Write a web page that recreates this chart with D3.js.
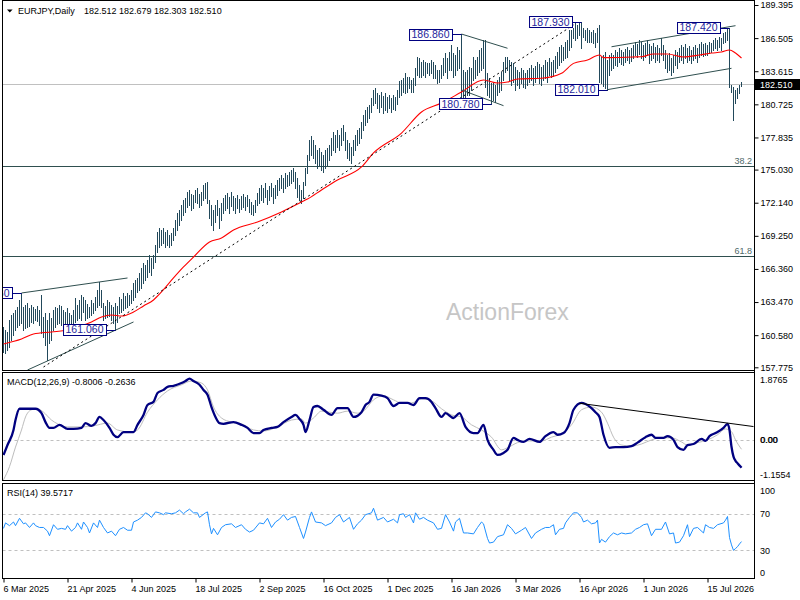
<!DOCTYPE html>
<html><head><meta charset="utf-8">
<script src="https://cdn.jsdelivr.net/npm/d3@7/dist/d3.min.js"></script>
<style>body{margin:0;background:#fff}svg{display:block}text{font-family:"Liberation Sans",Arial,sans-serif}</style>
</head><body>
<svg id="c" width="800" height="600"></svg>
<script>
// ---------- DATA ----------
const symbol = "EURJPY,Daily";
const lastOHLC = [182.512, 182.679, 182.303, 182.510];
const currentPrice = 182.510;

const highs = [
161.29,161.03,160.86,161.90,162.34,162.52,162.78,163.04,163.65,164.26,
163.04,163.21,163.39,162.95,163.21,163.04,162.86,163.13,162.78,164.09,
162.16,162.52,161.90,162.52,162.08,162.78,163.04,162.95,163.21,163.13,
162.78,162.60,162.95,162.52,162.34,162.78,163.82,163.21,163.65,164.09,
163.95,163.65,163.30,163.04,163.65,163.39,163.91,164.52,165.22,164.52,
163.39,163.13,163.65,163.47,163.21,163.04,163.39,163.13,163.91,163.74,
164.26,164.00,164.26,164.09,164.52,165.13,165.40,165.57,166.01,166.44,
166.88,166.70,167.14,167.58,167.31,167.58,168.45,169.59,169.93,169.76,
169.93,169.59,169.76,169.32,169.50,169.93,170.63,171.24,171.50,171.94,
172.38,172.55,173.08,173.25,172.90,172.81,173.25,173.42,172.90,173.08,
173.69,173.86,173.95,172.38,171.94,171.50,171.94,172.38,171.68,172.11,
172.55,172.81,172.99,172.64,173.08,172.73,172.55,172.81,172.46,172.73,
172.90,172.64,172.81,172.46,172.20,171.94,172.38,172.99,173.42,173.69,
173.42,173.86,173.25,173.60,173.86,173.42,173.69,174.12,174.30,174.56,
174.30,174.73,174.56,174.82,174.99,175.17,174.82,174.30,173.69,173.25,
173.95,175.17,176.30,177.61,177.96,177.61,177.18,176.74,176.91,176.57,
176.30,176.74,176.91,177.18,177.79,178.31,178.05,178.48,178.05,178.66,
178.92,178.31,177.61,177.35,177.00,177.61,178.05,178.48,178.66,179.18,
179.79,180.23,180.49,180.67,181.28,181.98,182.15,181.71,181.54,181.80,
181.45,181.71,181.36,181.54,181.28,181.54,181.36,181.98,182.76,182.85,
183.02,183.46,183.11,183.11,182.85,183.02,183.90,184.86,184.77,184.42,
184.60,184.42,184.33,184.33,184.60,184.42,184.16,183.72,183.72,184.16,
184.77,185.20,184.77,185.29,185.90,185.20,185.03,185.73,185.47,186.86,
183.72,183.55,183.72,183.98,183.90,184.86,184.60,184.86,185.47,185.64,
186.34,186.34,183.46,183.02,182.59,182.59,182.41,182.85,183.11,183.55,
184.42,184.86,184.86,184.60,184.42,184.33,183.98,183.72,183.55,183.90,
183.72,183.46,183.72,183.90,184.16,183.90,184.07,184.42,184.25,183.98,
184.16,184.60,184.42,184.77,184.42,184.60,184.94,185.29,185.73,185.90,
185.73,186.16,186.34,187.21,187.21,187.39,187.82,187.65,187.82,187.93,
187.39,187.21,187.39,187.21,187.04,187.21,186.95,187.39,187.65,184.86,
185.03,185.29,184.60,185.03,185.20,185.03,185.47,185.29,185.64,185.47,
185.29,185.55,185.73,185.47,185.64,185.90,186.16,185.99,186.34,186.16,
185.90,186.08,186.34,185.99,185.82,186.08,185.73,185.90,185.64,186.51,
185.90,185.47,185.03,185.20,184.77,185.03,185.47,185.29,185.64,185.90,
185.73,185.99,185.64,185.82,185.47,185.73,185.90,185.64,185.99,186.16,
185.99,186.08,185.90,186.16,186.08,186.34,186.51,186.34,186.60,186.51,
186.95,187.04,187.30,187.42,182.41,182.24,181.98,182.15,182.41,182.679
];
const lows = [
159.12,159.03,159.29,159.55,160.16,160.59,161.03,161.29,161.47,161.64,
161.03,161.21,161.29,161.38,161.73,161.64,161.90,161.82,161.47,160.77,
160.42,159.73,158.41,159.90,160.16,161.03,161.29,161.55,161.64,161.47,
161.03,161.21,160.86,161.47,161.29,161.47,161.73,161.90,162.08,161.90,
162.60,161.90,162.08,162.16,162.34,162.52,162.78,163.04,163.21,163.04,
161.90,162.08,162.16,162.25,161.90,161.64,161.06,161.73,162.52,162.60,
162.78,162.95,163.04,163.21,163.39,163.65,163.91,164.35,164.52,164.70,
165.13,165.40,165.66,166.09,165.83,166.44,166.97,167.84,168.27,168.45,
168.62,168.27,168.45,168.27,168.45,168.89,169.32,169.76,170.19,170.63,
171.07,171.33,171.76,171.94,171.50,171.68,172.20,172.11,171.76,171.94,
172.38,172.55,172.11,170.80,170.19,169.76,170.46,171.07,169.93,170.63,
171.24,171.50,171.68,171.24,171.85,171.50,171.24,171.68,171.33,171.59,
171.76,171.50,171.85,171.33,171.15,171.07,171.33,171.94,172.11,172.38,
172.20,172.64,172.03,172.38,172.73,172.11,172.55,172.81,173.25,173.42,
173.08,173.42,173.60,173.69,173.86,174.04,173.42,172.64,172.38,172.11,
172.55,173.69,174.73,175.87,176.30,176.04,175.60,175.17,175.43,174.99,
174.82,175.17,175.43,175.87,176.30,176.74,176.57,177.00,176.74,177.18,
177.61,176.74,176.04,175.87,175.60,176.30,176.74,177.18,177.35,177.79,
178.48,178.92,179.18,179.53,180.06,180.67,180.84,180.41,180.06,180.49,
179.97,180.23,180.06,180.41,180.06,180.32,180.23,180.75,181.36,181.54,
181.80,181.71,181.80,182.15,181.80,181.80,182.41,183.29,183.11,183.11,
183.29,183.11,183.46,183.29,183.46,183.02,183.02,182.59,182.67,183.02,
183.29,183.55,183.02,183.72,183.72,183.11,183.29,183.72,183.90,181.28,
181.10,181.28,181.54,181.54,181.98,182.85,183.02,183.29,183.55,183.72,
183.90,182.24,181.54,181.37,180.78,181.10,180.93,181.54,181.80,181.98,
182.85,183.55,183.72,182.85,182.41,182.67,181.98,182.41,182.15,182.59,
182.24,182.15,182.41,182.67,182.85,182.41,182.67,183.02,182.59,182.41,
182.85,183.02,182.67,183.29,183.11,183.20,183.55,183.90,184.16,184.42,
184.60,184.77,184.86,185.47,185.73,186.51,186.34,186.51,186.77,185.64,
186.60,186.34,186.16,186.16,186.16,186.08,185.73,186.16,182.67,182.59,
182.32,182.15,182.01,183.29,183.72,183.90,184.16,184.07,184.42,184.25,
184.16,184.42,184.60,184.33,184.51,184.77,185.03,184.86,185.12,184.77,
184.60,184.86,185.03,184.33,184.60,184.77,184.42,184.60,184.42,185.03,
184.60,183.90,183.55,183.72,183.29,183.55,184.16,183.90,184.42,184.60,
184.33,184.77,184.42,184.60,184.33,184.60,184.77,184.42,184.86,185.03,
184.94,185.03,185.03,185.20,185.29,185.47,185.64,185.47,185.73,185.47,
186.08,186.16,186.34,182.24,181.80,179.36,180.84,181.28,181.71,182.303
];

const maIdx = [0,9,15,24,32,37,44,49,54,59,65,70,75,79,85,90,95,103,109,115,127,139,149,152,159,167,179,185,199,209,219,229,240,247,252,257,269,279,285,292,298,300,315,319,325,332,340,348,354,359,363,366,369];
const maVal = [159.81,160.24,160.68,160.86,161.03,161.29,161.73,162.16,162.34,162.25,162.60,163.13,163.65,164.35,165.57,166.53,167.40,168.71,169.06,169.76,170.46,171.33,172.20,172.46,173.25,174.12,175.26,176.48,178.22,180.06,180.84,181.80,182.85,182.59,182.67,182.94,183.00,183.43,184.30,184.60,185.03,184.80,184.86,184.88,185.12,185.12,184.86,185.03,185.20,185.29,185.47,185.20,184.77];

const macdIdx = [0,2,5,6,8,9,14,16,19,21,23,25,28,32,35,39,41,44,46,48,50,53,55,57,60,62,65,67,70,72,75,77,80,82,85,89,91,93,95,98,100,102,104,106,108,110,115,119,122,125,128,130,134,137,140,144,146,148,150,151,153,155,157,160,164,167,172,175,179,181,183,185,189,192,195,198,202,205,208,211,214,216,219,221,225,228,231,235,237,240,242,245,247,250,252,255,257,260,263,268,271,275,277,280,283,285,289,291,294,296,298,300,303,306,310,314,317,321,324,326,330,332,335,337,340,342,345,349,351,353,356,360,362,363,364,365,366,367,369];
const macdVal = [-0.43,-0.14,0.30,0.59,0.92,0.92,0.92,0.92,0.79,0.53,0.36,0.36,0.45,0.33,0.33,0.36,0.50,0.42,0.50,0.68,0.59,0.36,0.16,0.09,0.24,0.24,0.24,0.45,0.74,1.03,1.12,1.38,1.47,1.56,1.59,1.67,1.73,1.80,1.73,1.62,1.47,1.33,0.97,0.68,0.50,0.48,0.53,0.45,0.36,0.21,0.21,0.30,0.36,0.39,0.53,0.68,0.74,0.62,0.45,0.24,0.59,0.97,1.00,0.89,0.74,0.94,0.94,0.68,0.82,1.03,1.12,1.33,1.30,1.23,1.00,1.09,1.09,1.03,1.23,1.23,1.12,0.94,0.68,0.79,0.65,0.79,0.39,0.21,0.21,0.45,0.01,-0.28,-0.43,-0.37,-0.28,0.07,0.01,-0.05,0.04,-0.05,0.12,0.24,0.16,0.21,0.50,0.89,1.09,1.06,0.94,0.82,0.68,0.16,-0.22,-0.20,-0.20,-0.17,-0.07,0.09,0.16,0.07,0.07,0.12,0.01,-0.20,-0.28,-0.14,-0.11,0.04,-0.02,0.12,0.21,0.36,0.48,0.30,-0.19,-0.48,-0.60,-0.67,-0.8006];

const sigIdx = [0,3,6,9,11,14,17,20,24,27,32,39,45,52,57,64,67,72,77,82,89,94,99,102,105,109,114,119,125,130,137,144,149,151,155,159,163,167,172,177,180,185,190,195,199,204,209,214,219,224,229,234,239,244,249,252,257,262,269,274,279,284,289,294,299,302,305,309,314,319,324,329,334,339,342,347,352,357,361,364,366,369];
const sigVal = [-1.1554,-0.77,-0.20,0.30,0.68,0.89,0.92,0.82,0.59,0.48,0.39,0.39,0.42,0.50,0.30,0.24,0.30,0.82,1.18,1.44,1.62,1.73,1.67,1.47,0.97,0.65,0.53,0.48,0.30,0.27,0.39,0.59,0.62,0.50,0.65,0.85,0.82,0.79,0.85,0.79,0.85,1.18,1.30,1.18,1.09,1.09,1.21,1.15,0.92,0.74,0.68,0.45,0.30,0.09,-0.28,-0.22,-0.07,-0.02,-0.02,0.09,0.19,0.45,0.89,0.97,0.82,0.50,0.09,-0.14,-0.17,-0.11,0.01,0.07,0.07,-0.05,-0.14,-0.07,0.01,0.16,0.33,0.25,0.01,-0.2636];

const rsiIdx = [0,1,3,5,6,8,10,11,13,15,16,18,20,22,23,25,27,29,31,32,34,36,37,39,40,42,43,45,47,48,50,52,54,56,58,60,62,64,65,67,69,71,72,74,76,78,80,81,84,86,88,90,91,93,95,97,98,101,102,103,104,105,107,109,111,114,116,119,121,123,125,128,130,132,134,136,138,140,142,144,146,148,150,151,153,154,156,159,161,164,166,168,170,173,175,177,179,181,184,185,187,190,192,195,197,198,200,201,203,205,206,208,210,212,215,217,219,221,223,225,226,228,230,232,235,237,239,240,242,243,245,247,250,252,254,256,259,261,264,266,269,271,273,275,276,278,280,281,283,285,287,289,290,292,294,296,297,298,299,301,303,305,307,309,311,314,316,318,320,322,324,326,329,331,333,335,336,338,340,342,343,345,347,350,351,353,355,357,360,361,362,363,364,365,366,367,368,369];
const rsiVal = [54,60,57,61,57,65,59,60,55,60,57,55,55,51,46,58,53,54,53,57,51,55,60,53,61,55,49,60,55,63,55,49,51,46,53,55,52,52,61,63,66,71,70,66,72,71,69,71,70,71,74,70,72,75,71,71,66,71,72,58,48,54,47,55,58,59,55,58,53,50,52,60,59,65,55,61,64,69,63,66,67,55,43,50,66,72,61,60,57,60,66,69,61,66,53,59,63,69,71,76,63,66,61,64,60,69,70,66,69,60,71,64,66,63,60,53,54,69,61,51,61,65,49,49,48,55,61,59,43,38,39,45,47,58,54,48,52,55,43,49,53,55,55,58,47,53,54,60,66,71,71,66,61,63,59,60,63,38,42,39,45,49,47,49,48,49,53,55,58,59,46,53,53,61,48,49,38,39,46,58,45,54,55,49,58,55,54,58,60,63,67,44,36,30,32,34,37,39.5717];

const dateTickIdx = [0,32,64,96,128,160,192,224,256,288,320,352];
const dateTickLabels = ["6 Mar 2025","21 Apr 2025","4 Jun 2025","18 Jul 2025","2 Sep 2025","16 Oct 2025","1 Dec 2025","16 Jan 2026","3 Mar 2026","16 Apr 2026","1 Jun 2026","15 Jul 2026"];
const priceTicks = [189.395,186.505,183.615,180.725,177.835,175.030,172.140,169.250,166.360,163.470,160.580,157.775];
const macdTicks = [1.8765, 0, -1.1554];
const macdTickLabels = ["1.8765","0.00","-1.1554"];
const rsiTicks = [100,70,30,0];
const rsiLevels = [70,30];

const fibPrices = [175.34, 167.46];
const fibLabels = ["38.2","61.8"];

const tagIdx = [9,56,229,244,289,302,363];
const tagVal = [164.26,161.06,186.86,180.78,187.93,182.01,187.42];

const trendStartIdx = [9,12,229,229,302,304];
const trendStartVal = [164.26,157.54,186.86,181.98,182.01,185.75];
const trendEndIdx   = [62,65,252,250,364,366];
const trendEndVal   = [165.57,161.73,185.62,180.61,183.87,187.59];
const dashStart = [20,157.80];
const dashEnd = [285,187.65];
const macdTrendIdx = [288,375];
const macdTrendVal = [1.08,0.40];

// ---------- LAYOUT ----------
const svg = d3.select("#c");
const L = 2.5, R = 754.5;
const mainTop = 0.5, mainBot = 370.5, macdTop = 372.5, macdBot = 480.5, rsiTop = 483.5, rsiBot = 578.5;

const x = d3.scaleLinear().domain([0,369]).range([3.5,741.5]);
const yP = d3.scaleLinear().domain([157.775,189.395]).range([367.3,5]);
const yM = d3.scaleLinear().domain([-1.1554,1.8765]).range([479.8,376]);
const yR = d3.scaleLinear().domain([0,100]).range([577.8,486.3]);

const defs = svg.append("defs");
defs.append("clipPath").attr("id","cm").append("rect").attr("x",L+0.5).attr("y",mainTop+0.5).attr("width",R-L-1).attr("height",mainBot-mainTop-1);
defs.append("clipPath").attr("id","cd").append("rect").attr("x",L+0.5).attr("y",macdTop+0.5).attr("width",R-L-1).attr("height",macdBot-macdTop-1);
defs.append("clipPath").attr("id","cr").append("rect").attr("x",L+0.5).attr("y",rsiTop+0.5).attr("width",R-L-1).attr("height",rsiBot-rsiTop-1);

// ---------- MAIN PANEL ----------
const gm = svg.append("g").attr("clip-path","url(#cm)");

gm.append("text").attr("x",446).attr("y",320).attr("font-size",23).attr("fill","#c6c6c6").text("ActionForex");

gm.selectAll("line.fib").data(fibPrices).join("line").attr("class","fib")
  .attr("x1",L).attr("x2",R).attr("y1",d=>Math.round(yP(d))+0.5).attr("y2",d=>Math.round(yP(d))+0.5)
  .attr("stroke","#2f4f4f").attr("stroke-width",1);
gm.selectAll("text.fib").data(fibPrices).join("text").attr("class","fib")
  .attr("x",752).attr("y",d=>yP(d)-2.5).attr("text-anchor","end").attr("font-size",9).attr("fill","#4f6a6a")
  .text((d,i)=>fibLabels[i]);

gm.append("line").attr("x1",L).attr("x2",R).attr("y1",Math.round(yP(currentPrice))+0.5).attr("y2",Math.round(yP(currentPrice))+0.5)
  .attr("stroke","#c0c0c0").attr("stroke-width",1);

gm.selectAll("line.bar").data(highs).join("line").attr("class","bar")
  .attr("x1",(d,i)=>x(i)).attr("x2",(d,i)=>x(i))
  .attr("y1",d=>yP(d)).attr("y2",(d,i)=>yP(lows[i])+1)
  .attr("stroke","#22495b").attr("stroke-width",1).attr("shape-rendering","crispEdges");

const maData = d3.zip(maIdx, maVal);
gm.append("path").datum(maData).attr("fill","none").attr("stroke","#ff0000").attr("stroke-width",1.1)
  .attr("d", d3.line().x(d=>x(d[0])).y(d=>yP(d[1])).curve(d3.curveMonotoneX));

gm.selectAll("line.tl").data(trendStartIdx).join("line").attr("class","tl")
  .attr("x1",d=>x(d)).attr("y1",(d,i)=>yP(trendStartVal[i]))
  .attr("x2",(d,i)=>x(trendEndIdx[i])).attr("y2",(d,i)=>yP(trendEndVal[i]))
  .attr("stroke","#2f4f4f").attr("stroke-width",1);

gm.append("line").attr("x1",x(dashStart[0])).attr("y1",yP(dashStart[1])).attr("x2",x(dashEnd[0])).attr("y2",yP(dashEnd[1]))
  .attr("stroke","#000").attr("stroke-width",1).attr("stroke-dasharray","2,3");

// price tags
tagIdx.forEach((idx,k)=>{
  const v = tagVal[k];
  const cy = yP(v);
  const xr = Math.round(x(idx)) - 10;
  const g = gm.append("g");
  const t = g.append("text").attr("font-size",10.5).attr("fill","#1f1f9c").attr("text-anchor","end")
    .attr("x",xr-2.5).attr("y",cy+3.8).text(v.toFixed(3));
  const w = t.node().getComputedTextLength();
  g.insert("rect","text").attr("x",xr-w-5+0.5).attr("y",Math.round(cy-5.5)+0.5).attr("width",w+5).attr("height",11)
    .attr("fill","#fff").attr("stroke","#000080").attr("stroke-width",1);
  g.append("line").attr("x1",xr+0.5).attr("x2",x(idx)).attr("y1",Math.round(cy)+0.5).attr("y2",Math.round(cy)+0.5)
    .attr("stroke","#000080").attr("stroke-width",1);
});

// header
svg.append("path").attr("d","M7,9.5 L12.6,9.5 L9.8,12.6 Z").attr("fill","#000");
svg.append("text").attr("x",18).attr("y",14).attr("font-size",9).attr("fill","#000").text(symbol);
svg.append("text").attr("x",84).attr("y",14).attr("font-size",9).attr("fill","#000").text(lastOHLC.map(d=>d.toFixed(3)).join(" "));

// ---------- MACD PANEL ----------
const gd = svg.append("g").attr("clip-path","url(#cd)");
gd.append("line").attr("x1",L).attr("x2",R).attr("y1",Math.round(yM(0))+0.5).attr("y2",Math.round(yM(0))+0.5)
  .attr("stroke","#c0c0c0").attr("stroke-dasharray","3,3");
gd.append("path").datum(d3.zip(sigIdx,sigVal)).attr("fill","none").attr("stroke","#bdbdbd").attr("stroke-width",1)
  .attr("d", d3.line().x(d=>x(d[0])).y(d=>yM(d[1])).curve(d3.curveMonotoneX));
gd.append("path").datum(d3.zip(macdIdx,macdVal)).attr("fill","none").attr("stroke","#000080").attr("stroke-width",2.3)
  .attr("stroke-linejoin","round").attr("d", d3.line().x(d=>x(d[0])).y(d=>yM(d[1])).curve(d3.curveMonotoneX));
gd.append("line").attr("x1",x(macdTrendIdx[0])).attr("y1",yM(macdTrendVal[0])).attr("x2",x(macdTrendIdx[1])).attr("y2",yM(macdTrendVal[1]))
  .attr("stroke","#000").attr("stroke-width",1);
svg.append("text").attr("x",7).attr("y",385).attr("font-size",9).attr("fill","#000")
  .text(`MACD(12,26,9) ${macdVal[macdVal.length-1].toFixed(4)} ${sigVal[sigVal.length-1].toFixed(4)}`);

// ---------- RSI PANEL ----------
const gr = svg.append("g").attr("clip-path","url(#cr)");
gr.selectAll("line.lv").data(rsiLevels).join("line").attr("class","lv")
  .attr("x1",L).attr("x2",R).attr("y1",d=>Math.round(yR(d))+0.5).attr("y2",d=>Math.round(yR(d))+0.5)
  .attr("stroke","#c0c0c0").attr("stroke-dasharray","3,3");
gr.append("path").datum(d3.zip(rsiIdx,rsiVal)).attr("fill","none").attr("stroke","#1e90ff").attr("stroke-width",1)
  .attr("d", d3.line().x(d=>x(d[0])).y(d=>yR(d[1])));
svg.append("text").attr("x",7).attr("y",496).attr("font-size",9).attr("fill","#000")
  .text(`RSI(14) ${rsiVal[rsiVal.length-1].toFixed(4)}`);

// ---------- FRAMES ----------
const frame = svg.append("g").attr("stroke","#000").attr("stroke-width",1).attr("fill","none");
[[mainTop,mainBot],[macdTop,macdBot],[rsiTop,rsiBot]].forEach(([t,b])=>{
  frame.append("rect").attr("x",L).attr("y",t).attr("width",R-L).attr("height",b-t);
});

// ---------- AXES ----------
const ax = svg.append("g").attr("transform",`translate(${R},0)`)
  .call(d3.axisRight(yP).tickValues(priceTicks).tickSize(4).tickPadding(2).tickFormat(d3.format(".3f")));
ax.select(".domain").remove();
ax.selectAll("text").attr("font-size",9).attr("fill","#000").attr("font-family","Liberation Sans, Arial");
ax.selectAll("line").attr("stroke","#000");

// current price tag
svg.append("rect").attr("x",755).attr("y",Math.round(yP(currentPrice))-5).attr("width",45).attr("height",11).attr("fill","#000");
svg.append("text").attr("x",760).attr("y",Math.round(yP(currentPrice))+3.5).attr("font-size",9).attr("fill","#fff").text(currentPrice.toFixed(3));

const clampY = (y,t,b)=>Math.max(t+7,Math.min(b-5.5,y));
svg.selectAll("text.mt").data(macdTicks).join("text").attr("class","mt")
  .attr("x",760).attr("y",d=>clampY(yM(d),macdTop,macdBot)+3.2).attr("font-size",9).attr("fill","#000")
  .text((d,i)=>macdTickLabels[i]);
svg.append("text").attr("x",760.6).attr("y",clampY(yM(0),macdTop,macdBot)+3.2).attr("font-size",9).attr("fill","#000").text(macdTickLabels[1]);
svg.selectAll("text.rt").data(rsiTicks).join("text").attr("class","rt")
  .attr("x",760).attr("y",d=>clampY(yR(d),rsiTop,rsiBot)+3.2).attr("font-size",9).attr("fill","#000")
  .text(d=>d);

const bx = svg.append("g").attr("transform",`translate(0,${rsiBot})`)
  .call(d3.axisBottom(x).tickValues(dateTickIdx).tickSize(4).tickPadding(3).tickFormat((d,i)=>dateTickLabels[i]));
bx.select(".domain").remove();
bx.selectAll("text").attr("text-anchor","start").attr("dx",-0.5).attr("font-size",9).attr("fill","#000").attr("font-family","Liberation Sans, Arial");
bx.selectAll("line").attr("stroke","#000");

svg.append("line").attr("x1",R).attr("x2",R).attr("y1",0).attr("y2",rsiBot).attr("stroke","#000");
</script>
</body></html>
